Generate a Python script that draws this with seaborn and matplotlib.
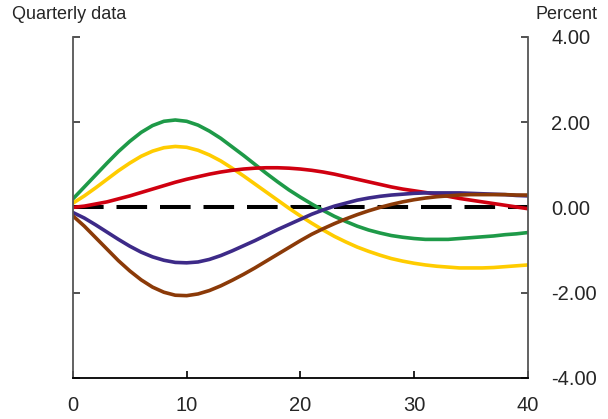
import matplotlib
matplotlib.use("Agg")
import matplotlib.pyplot as plt
import seaborn as sns
import pandas as pd

# Quarters after the shock
quarters = list(range(0, 41))

# Response paths (percent)
green = [0.20, 0.48, 0.76, 1.04, 1.31, 1.55, 1.76, 1.92, 2.02, 2.05,
         2.02, 1.93, 1.79, 1.62, 1.42, 1.22, 1.01, 0.80, 0.60, 0.41,
         0.24, 0.08, -0.07, -0.21, -0.33, -0.44, -0.53, -0.60, -0.66, -0.70,
         -0.73, -0.75, -0.75, -0.75, -0.73, -0.71, -0.69, -0.67, -0.64, -0.62,
         -0.59]
yellow = [0.10, 0.27, 0.46, 0.66, 0.86, 1.04, 1.20, 1.32, 1.40, 1.43,
          1.41, 1.34, 1.23, 1.09, 0.92, 0.74, 0.55, 0.36, 0.17, -0.02,
          -0.20, -0.37, -0.53, -0.68, -0.81, -0.93, -1.03, -1.12, -1.20, -1.26,
          -1.31, -1.35, -1.38, -1.40, -1.42, -1.42, -1.42, -1.41, -1.39, -1.37,
          -1.35]
red = [0.00, 0.03, 0.08, 0.13, 0.20, 0.27, 0.35, 0.43, 0.51, 0.59,
       0.66, 0.72, 0.78, 0.83, 0.87, 0.90, 0.92, 0.93, 0.93, 0.92,
       0.90, 0.87, 0.83, 0.78, 0.72, 0.66, 0.60, 0.54, 0.48, 0.43,
       0.39, 0.35, 0.31, 0.26, 0.21, 0.17, 0.13, 0.09, 0.05, 0.01,
       -0.03]
purple = [-0.12, -0.25, -0.41, -0.58, -0.75, -0.91, -1.05, -1.16, -1.24, -1.29,
          -1.30, -1.28, -1.22, -1.13, -1.02, -0.90, -0.78, -0.65, -0.52, -0.40,
          -0.28, -0.16, -0.06, 0.03, 0.10, 0.17, 0.22, 0.26, 0.29, 0.31,
          0.33, 0.34, 0.34, 0.34, 0.34, 0.33, 0.32, 0.31, 0.30, 0.28,
          0.27]
brown = [-0.20, -0.44, -0.71, -0.98, -1.25, -1.49, -1.70, -1.87, -1.99, -2.06,
         -2.07, -2.03, -1.95, -1.84, -1.71, -1.57, -1.42, -1.26, -1.10, -0.94,
         -0.78, -0.63, -0.50, -0.38, -0.27, -0.17, -0.08, 0.00, 0.07, 0.13,
         0.18, 0.22, 0.25, 0.27, 0.29, 0.30, 0.30, 0.30, 0.30, 0.29,
         0.29]

x_ticks = [0, 10, 20, 30, 40]
y_ticks = [-4, -2, 0, 2, 4]
y_tick_labels = ["-4.00", "-2.00", "0.00", "2.00", "4.00"]

series = {"green": green, "yellow": yellow, "red": red, "purple": purple, "brown": brown}
colors = {"green": "#1e9a48", "yellow": "#ffcc00", "red": "#d00010",
          "purple": "#3d2a88", "brown": "#8b3a08"}

df = pd.concat(
    [pd.DataFrame({"quarter": quarters, "value": vals, "series": name})
     for name, vals in series.items()],
    ignore_index=True,
)

sns.set_style("white")
plt.rcParams["font.family"] = ["Liberation Sans", "DejaVu Sans"]
plt.rcParams["axes.unicode_minus"] = False

fig = plt.figure(figsize=(6.08, 4.19), dpi=100)
ax = fig.add_axes([0.120, 0.098, 0.748, 0.814])

ax.axhline(0, color="black", lw=2.9, dashes=(7.6, 3.2), zorder=1.5)
sns.lineplot(data=df, x="quarter", y="value", hue="series", palette=colors,
             hue_order=list(series.keys()), linewidth=2.6, legend=False, ax=ax, zorder=2)
for line in ax.get_lines()[1:]:
    line.set_solid_capstyle("round")
    line.set_solid_joinstyle("round")

ax.set_xlim(0, 40)
ax.set_ylim(-4, 4)
ax.set_xticks(x_ticks)
ax.set_xticklabels([str(t) for t in x_ticks])
ax.set_yticks(y_ticks)
ax.set_yticklabels(y_tick_labels)
ax.set_xlabel("")
ax.set_ylabel("")

ax.spines["top"].set_visible(False)
for side in ["left", "right", "bottom"]:
    ax.spines[side].set_visible(True)
    ax.spines[side].set_linewidth(1.3)
ax.spines["left"].set_color("#555555")
ax.spines["right"].set_color("#555555")
ax.spines["bottom"].set_color("black")

ax.tick_params(axis="y", which="both", direction="in", left=True, right=True,
               labelleft=False, labelright=True, length=5, width=1.2,
               color="#333333", labelsize=14.5, pad=17)
ax.tick_params(axis="x", which="both", direction="in", bottom=True, top=False,
               length=5, width=1.2, color="black", labelsize=14.5, pad=13)
for lbl in ax.get_yticklabels():
    lbl.set_horizontalalignment("left")

fig.text(0.020, 0.965, "Quarterly data", fontsize=13, ha="left", va="center")
fig.text(0.983, 0.965, "Percent", fontsize=13, ha="right", va="center")

fig.savefig("out.png", dpi=100)
